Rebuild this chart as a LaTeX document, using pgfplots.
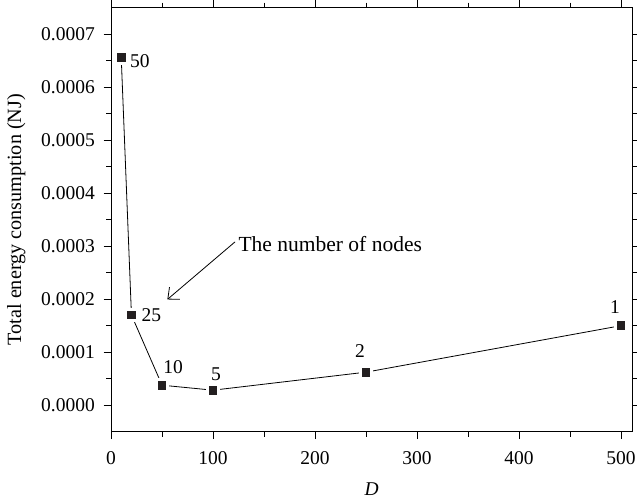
\documentclass[border=0pt]{standalone}
\usepackage{fontspec}
\setmainfont{Liberation Serif}
\usepackage{pgfplots}
\pgfplotsset{compat=1.18}
\usetikzlibrary{arrows.meta}
\definecolor{markfill}{HTML}{231F20}

\begin{document}
\fontsize{19.5bp}{23bp}\selectfont
\begin{tikzpicture}
\begin{axis}[
  scale only axis,
  width=521bp, height=424bp,
  xmin=0, xmax=511,
  ymin=-0.00005, ymax=0.00075,
  xtick={0,100,200,300,400,500},
  ytick={0,0.0001,0.0002,0.0003,0.0004,0.0005,0.0006,0.0007},
  minor x tick num=1, minor y tick num=1,
  tick align=outside,
  major tick length=7.5bp, minor tick length=5bp,
  scaled y ticks=false,
  /pgf/number format/assume math mode=true,
  yticklabel style={/pgf/number format/fixed, /pgf/number format/fixed zerofill,
    /pgf/number format/precision=4, inner sep=0pt, anchor=east, xshift=-8.5bp},
  xticklabel style={inner sep=0pt, anchor=north, yshift=-12.5bp},
  axis line style={line width=0.9bp},
  every tick/.style={line width=0.9bp, black},
  xlabel={\itshape D},
  ylabel={Total energy consumption (NJ)},
  xlabel style={at={(axis description cs:0.5,0)}, anchor=base, yshift=-63.3bp, inner sep=0pt},
  ylabel style={at={(axis description cs:-0.1996,0.5)}, anchor=north, inner sep=0pt,
    font=\fontsize{20.2bp}{24bp}\selectfont},
  clip=false,
]
\addplot[black, line width=0.8bp, mark=square*, mark size=5.8bp,
  mark options={fill=markfill, draw=white, line width=2.8bp}]
  coordinates {
    (10, 0.000655)
    (20, 0.000170)
    (50, 0.0000377)
    (100, 0.0000283)
    (250, 0.0000623)
    (500, 0.000150)
  };
% node counts next to each point
\node[anchor=base west, inner sep=0pt, xshift=8.7bp, yshift=-9.6bp] at (axis cs:10,0.000655) {50};
\node[anchor=base west, inner sep=0pt, xshift=10bp, yshift=-6.7bp] at (axis cs:20,0.000170) {25};
\node[anchor=base, inner sep=0pt, xshift=11bp, yshift=12bp] at (axis cs:50,0.0000377) {10};
\node[anchor=base, inner sep=0pt, xshift=3bp, yshift=10bp] at (axis cs:100,0.0000283) {5};
\node[anchor=base, inner sep=0pt, xshift=-6bp, yshift=15bp] at (axis cs:250,0.0000623) {2};
\node[anchor=base, inner sep=0pt, xshift=-6bp, yshift=12bp] at (axis cs:500,0.000150) {1};
% annotation
\draw[-{Straight Barb[length=9bp, width=16bp]}, line width=0.8bp]
  (axis cs:121.6,0.0003081) -- (axis cs:55.2,0.0001994);
\node[anchor=base west, inner sep=0pt, font=\fontsize{21.5bp}{25bp}\selectfont]
  at (axis cs:124.8,0.0002892) {The number of nodes};
\end{axis}
\pgfresetboundingbox
\path ([shift={(-111bp,-70.3bp)}]current axis.south west) rectangle ([shift={(4.7bp,7.5bp)}]current axis.north east);
\end{tikzpicture}
\end{document}
